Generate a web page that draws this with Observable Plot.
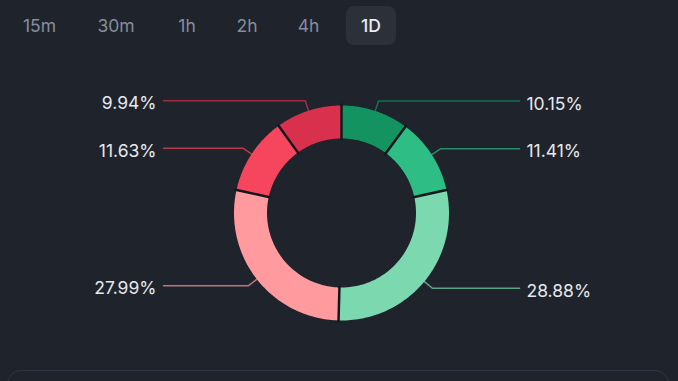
<!DOCTYPE html>
<html>
<head>
<meta charset="utf-8">
<script src="https://cdn.jsdelivr.net/npm/d3@7"></script>
<script src="https://cdn.jsdelivr.net/npm/@observablehq/plot@0.6"></script>
<style>
  html, body { margin: 0; padding: 0; background: #1f232b; overflow: hidden; }
  #wrap { position: relative; width: 678px; height: 381px; font-family: Inter, "Open Sans", sans-serif; }
  #chart { position: absolute; left: 0; top: 0; }
  .tab { position: absolute; top: 6px; height: 39px; line-height: 39px; font-size: 17.5px; color: #848e9c; transform: translateX(-50%); text-align: center; }
  .tab.sel { background: #2b3139; color: #eaecef; border-radius: 8px; width: 50px; font-weight: 500; }
  #panel { position: absolute; left: 7px; top: 370px; width: 662px; height: 40px; border: 1.5px solid #2f3540; border-radius: 14px; box-sizing: border-box; }
</style>
</head>
<body>
<div id="wrap">
  <div id="chart"></div>
  <div id="tabs"></div>
  <div id="panel"></div>
</div>
<script>
// ---- data ----
const tabs = ["15m", "30m", "1h", "2h", "4h", "1D"];
const selectedTab = "1D";
const sliceLabels = ["Large buy", "Medium buy", "Small buy", "Small sell", "Medium sell", "Large sell"];
const sliceValues = [10.15, 11.41, 28.88, 27.99, 11.63, 9.94];
const sliceColors = ["#12935f", "#2ebd85", "#7cd8ae", "#ff9a9f", "#f6465d", "#d9304e"];

// ---- layout ----
const W = 678, H = 381;
const cx = 341, cy = 212.5;
const rOuter = 107.5, rInner = 74.5;
const rElbow = 118, lineEnd = 178;

// tabs (HTML)
const tabX = [39.5, 116, 187, 247, 308.5, 371];
const tabsDiv = document.getElementById("tabs");
tabs.forEach((t, i) => {
  const d = document.createElement("div");
  d.className = "tab" + (t === selectedTab ? " sel" : "");
  d.style.left = tabX[i] + "px";
  d.textContent = t;
  tabsDiv.appendChild(d);
});

// ---- pie geometry from values ----
const pie = d3.pie().sort(null).value(d => d.value);
const arcs = pie(sliceLabels.map((label, i) => ({label, value: sliceValues[i], color: sliceColors[i]})));
const pt = (r, a) => ({x: r * Math.sin(a), y: r * Math.cos(a)});

const polys = [];
arcs.forEach(a => {
  const n = 80;
  for (let k = 0; k <= n; k++) {
    const ang = a.startAngle + (a.endAngle - a.startAngle) * k / n;
    polys.push({...pt(rOuter, ang), label: a.data.label, color: a.data.color});
  }
  for (let k = n; k >= 0; k--) {
    const ang = a.startAngle + (a.endAngle - a.startAngle) * k / n;
    polys.push({...pt(rInner, ang), label: a.data.label, color: a.data.color});
  }
});

const seps = [];
arcs.forEach(a => {
  seps.push({...pt(rInner - 1, a.startAngle), id: a.data.label});
  seps.push({...pt(rOuter + 1, a.startAngle), id: a.data.label});
});

const leaders = [];
const texts = [];
arcs.forEach(a => {
  const mid = (a.startAngle + a.endAngle) / 2;
  const p0 = pt(rOuter - 1, mid);
  const p1 = pt(rElbow, mid);
  const right = p1.x > 0;
  const xe = right ? lineEnd : -lineEnd;
  leaders.push({...p0, id: a.data.label, color: a.data.color});
  leaders.push({...p1, id: a.data.label, color: a.data.color});
  leaders.push({x: xe, y: p1.y, id: a.data.label, color: a.data.color});
  texts.push({x: xe + (right ? 7 : -7), y: p1.y, text: a.data.value.toFixed(2) + "%", anchor: right ? "start" : "end"});
});

const chart = Plot.plot({
  width: W, height: H,
  margin: 0,
  style: {background: "transparent", fontFamily: "Inter, 'Open Sans', sans-serif"},
  x: {domain: [-cx, W - cx], axis: null},
  y: {domain: [cy - H, cy], axis: null},
  color: {type: "identity"},
  marks: [
    Plot.line(leaders, {x: "x", y: "y", z: "id", stroke: "color", strokeWidth: 1.5, strokeOpacity: 0.7, curve: "linear"}),
    Plot.line(polys, {x: "x", y: "y", z: "label", fill: "color", stroke: "none", curve: "linear"}),
    Plot.line(seps, {x: "x", y: "y", z: "id", stroke: "#14171c", strokeWidth: 2.5}),
    Plot.text(texts.filter(d => d.anchor === "start"), {x: "x", y: "y", text: "text", textAnchor: "start", fill: "#e6e8eb", fontSize: 17.5, dy: 3}),
    Plot.text(texts.filter(d => d.anchor === "end"), {x: "x", y: "y", text: "text", textAnchor: "end", fill: "#e6e8eb", fontSize: 17.5, dy: 3})
  ]
});
document.getElementById("chart").appendChild(chart);
</script>
</body>
</html>
